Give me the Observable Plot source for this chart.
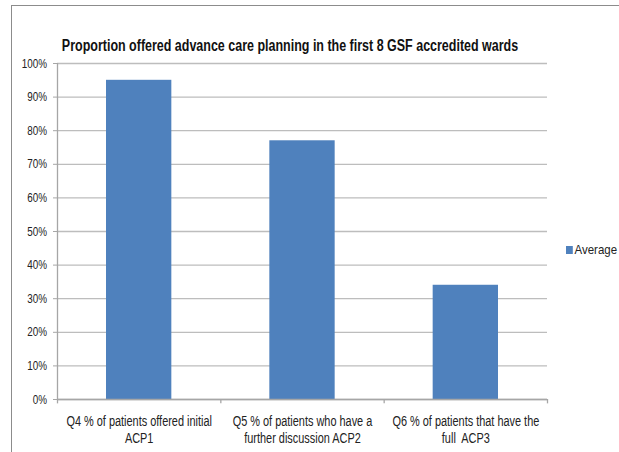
<!DOCTYPE html>
<html><head><meta charset="utf-8">
<script src="https://cdn.jsdelivr.net/npm/d3@7"></script>
<script src="https://cdn.jsdelivr.net/npm/@observablehq/plot@0.6"></script>
<style>
body{margin:0;background:#fff;font-family:"Liberation Sans",Arial,sans-serif;}
#wrap{position:relative;width:619px;height:452px;overflow:hidden;}
#frame{position:absolute;left:11px;top:5px;width:700px;height:500px;border:1px solid #8c8c8c;box-sizing:border-box;}
#legend{position:absolute;left:566px;top:242px;font-size:13.5px;line-height:16px;color:#222;display:flex;align-items:center;gap:2px;transform:scaleX(0.85);transform-origin:left center;white-space:nowrap;}
#legend span.sw{display:inline-block;width:8px;height:8px;background:#4f81bd;}
svg{position:absolute;left:0;top:0;}
</style></head>
<body><div id="wrap"><div id="frame"></div><div id="legend"><span class="sw"></span><span id="legtext"></span></div></div>
<script>
const title = "Proportion offered advance care planning in the first 8 GSF accredited wards";
const categories = ["Q4 % of patients offered initial\nACP1", "Q5 % of patients who have a\nfurther discussion ACP2", "Q6 % of patients that have the\nfull  ACP3"];
const values = [0.95, 0.77, 0.34];
const yTicks = [0,0.1,0.2,0.3,0.4,0.5,0.6,0.7,0.8,0.9,1.0];
const seriesName = "Average";

document.getElementById("legtext").textContent = seriesName;
const data = categories.map((c,i)=>({i, c, v: values[i]}));
const boundaries = d3.range(categories.length + 1);
const font = '"Liberation Sans",Arial,sans-serif';

const chart = Plot.plot({
  width: 619, height: 452,
  marginLeft: 57, marginRight: 72, marginTop: 63, marginBottom: 53,
  style: {fontFamily: font, fontSize: "12px", color: "#222", background: "transparent", overflow: "visible"},
  x: {type: "linear", domain: [0, categories.length], axis: null},
  y: {type: "linear", domain: [0, 1], axis: null},
  marks: [
    Plot.ruleY(yTicks, {y: d => d, stroke: "#bdbdbd", strokeWidth: 1.3}),
    Plot.rectY(data, {x1: d => d.i + 0.3, x2: d => d.i + 0.7, y1: 0, y2: "v", fill: "#4f81bd"}),
    Plot.ruleX([0], {stroke: "#a6a6a6", strokeWidth: 1.3}),
    Plot.ruleY([0], {stroke: "#a6a6a6", strokeWidth: 1.3}),
    Plot.ruleX(boundaries, {x: d => d, y1: 0, y2: -0.013, stroke: "#a6a6a6", strokeWidth: 1.3, clip: false}),
    Plot.axisY({ticks: yTicks, tickFormat: d3.format(".0%"), tickSize: 4, tickPadding: 6.5, stroke: "#a6a6a6", fontSize: 13, label: null, className: "yax"}),
    Plot.text(data, {x: d => d.i + 0.5, y: 0, text: "c", dy: 14.5, lineAnchor: "top", lineHeight: 1.21, fontSize: 14, fill: "#222", className: "cat"}),
    Plot.text([title], {frameAnchor: "top", dx: -12.5, dy: -24, fontSize: 16, fontWeight: "bold", fill: "#111", className: "ttl"})
  ]
});
document.getElementById("wrap").appendChild(chart);
// emulate the narrow (Calibri-like) font by compressing glyphs horizontally
function squeeze(sel, f) {
  chart.querySelectorAll(sel).forEach(t => {
    const tspans = t.querySelectorAll("tspan");
    const els = tspans.length ? tspans : [t];
    els.forEach(e => {
      const w = e.getComputedTextLength();
      if (w > 0) { e.setAttribute("textLength", (w * f).toFixed(1)); e.setAttribute("lengthAdjust", "spacingAndGlyphs"); }
    });
  });
}
squeeze(".ttl text", 0.78);
squeeze(".cat text", 0.78);
squeeze(".yax text", 0.76);
</script></body></html>
